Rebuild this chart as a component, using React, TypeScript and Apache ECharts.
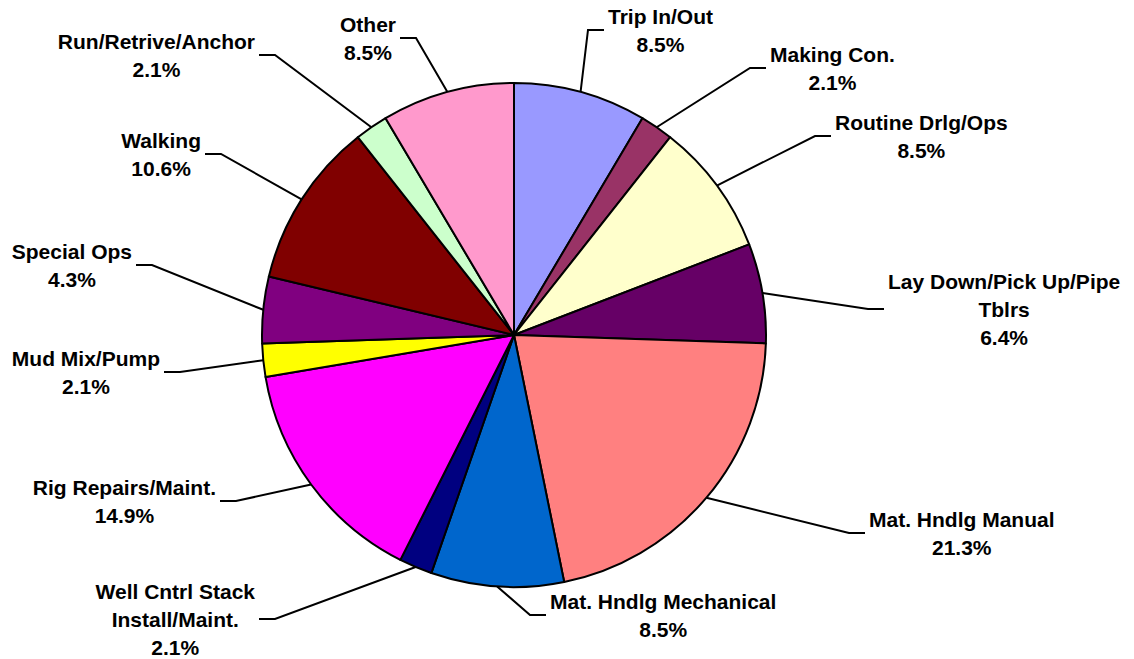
import React, { useEffect, useRef } from "react";
import * as echarts from "echarts";

// ---- Data ----
const categories = [
  "Trip In/Out",
  "Making Con.",
  "Routine Drlg/Ops",
  "Lay Down/Pick Up/Pipe Tblrs",
  "Mat. Hndlg Manual",
  "Mat. Hndlg Mechanical",
  "Well Cntrl Stack Install/Maint.",
  "Rig Repairs/Maint.",
  "Mud Mix/Pump",
  "Special Ops",
  "Walking",
  "Run/Retrive/Anchor",
  "Other",
];
const counts = [4, 1, 4, 3, 10, 4, 1, 7, 1, 2, 5, 1, 4];
const colors = [
  "#9999FF",
  "#993366",
  "#FFFFCC",
  "#660066",
  "#FF8080",
  "#0066CC",
  "#000080",
  "#FF00FF",
  "#FFFF00",
  "#800080",
  "#800000",
  "#CCFFCC",
  "#FF99CC",
];

// ---- Layout (not data) ----
const CX = 514;
const CY = 335;
const R = 252;
// elbow of each leader line, relative to the pie centre
const labelElbows = [
  [74, -305],
  [236, -267],
  [301, -199],
  [354, -26],
  [335, 198],
  [16, 280],
  [-239, 284],
  [-278, 166],
  [-334, 37],
  [-362, -70],
  [-293, -181],
  [-239, -280],
  [-98, -297],
];
const H_LEN = 16;
const GAP = 4;

const total = counts.reduce((a, b) => a + b, 0);

function wrapName(n: string): string {
  return n
    .replace("Pipe Tblrs", "Pipe\nTblrs")
    .replace("Stack Install", "Stack\nInstall");
}

export default function App() {
  const ref = useRef<HTMLDivElement>(null);

  useEffect(() => {
    if (!ref.current) return;
    const chart = echarts.init(ref.current, undefined, { renderer: "svg" });

    // mid angles (clockwise from top, degrees)
    const mids: number[] = [];
    let acc = 0;
    for (const c of counts) {
      mids.push(((acc + c / 2) / total) * 360);
      acc += c;
    }

    chart.setOption({
      animation: false,
      backgroundColor: "#ffffff",
      series: [
        {
          type: "pie",
          center: [CX, CY],
          radius: R,
          startAngle: 90,
          clockwise: true,
          avoidLabelOverlap: false,
          data: categories.map((name, i) => ({
            name,
            value: counts[i],
            itemStyle: { color: colors[i] },
          })),
          itemStyle: { borderColor: "#000000", borderWidth: 2 },
          emphasis: { disabled: true },
          label: {
            show: true,
            position: "outside",
            color: "#000000",
            fontFamily: "Liberation Sans, Arial, sans-serif",
            fontWeight: "bold",
            fontSize: 21,
            lineHeight: 28,
            formatter: (p: any) =>
              wrapName(p.name) + "\n" + ((p.value / total) * 100).toFixed(1) + "%",
          },
          labelLine: {
            show: true,
            length: 15,
            length2: 15,
            lineStyle: { color: "#000000", width: 2 },
          },
          labelLayout: (params: any) => {
            const i = params.dataIndex;
            const a = (mids[i] * Math.PI) / 180;
            const ex = CX + R * Math.sin(a);
            const ey = CY - R * Math.cos(a);
            const bx = CX + labelElbows[i][0];
            const by = CY + labelElbows[i][1];
            const side = labelElbows[i][0] >= 0 ? 1 : -1;
            const hx = bx + side * H_LEN;
            const w = params.labelRect.width;
            const x = hx + side * (GAP + w / 2);
            return {
              x,
              y: by,
              align: "center",
              verticalAlign: "middle",
              labelLinePoints: [
                [ex, ey],
                [bx, by],
                [hx, by],
              ],
            };
          },
        },
      ],
    });

    return () => chart.dispose();
  }, []);

  return (
    <div
      ref={ref}
      style={{
        position: "fixed",
        left: 0,
        top: 0,
        width: 1134,
        height: 659,
        background: "#ffffff",
      }}
    />
  );
}
